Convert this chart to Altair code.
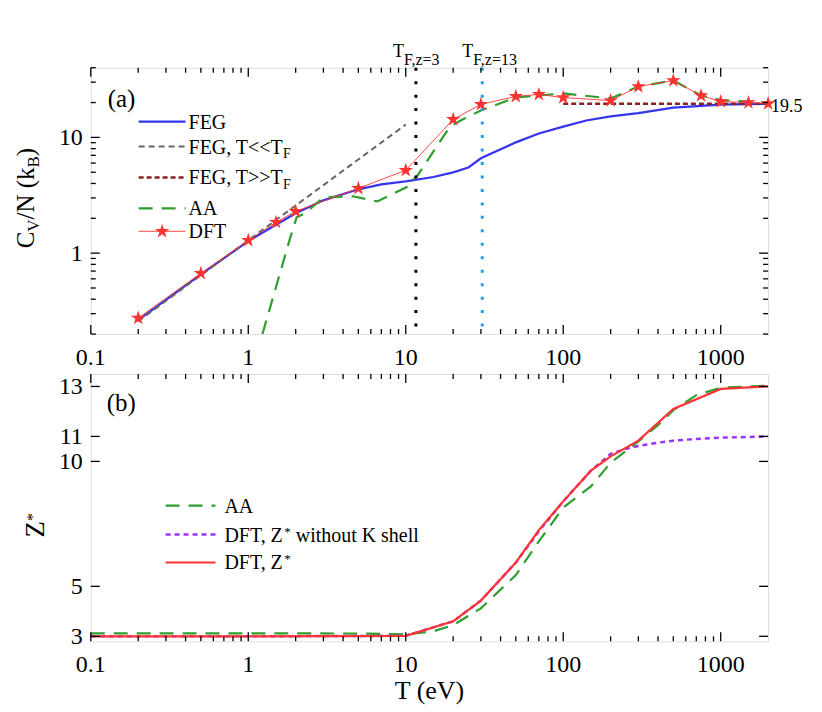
import altair as alt
import pandas as pd

FONT = "Liberation Serif"

# ---------------- panel (a): heat capacity C_V/N (k_B) ----------------
feg_t = [0.2, 0.5, 1, 1.5, 2, 3, 5, 7, 10, 15, 20, 25, 30, 50, 70, 100, 140, 200, 300, 500, 1000, 2000]
feg_cv = [0.264, 0.655, 1.27, 1.76, 2.21, 2.86, 3.56, 3.93, 4.17, 4.55, 4.99, 5.5, 6.6, 9.06, 10.8,
          12.4, 14.0, 15.2, 16.2, 18.1, 19.2, 19.5]

low_t = [0.2, 10]
low_cv = [0.258, 12.9]

high_t = [100, 2000]
high_cv = [19.5, 19.5]

aa_t = [1.23, 1.53, 1.85, 2.03, 2.3, 3, 4.6, 6.6, 10.1, 11.9, 14.9, 19, 22.3, 30, 50, 100, 200, 300,
        500, 750, 1000, 2000]
aa_cv = [0.2, 0.56, 1.37, 2.04, 2.21, 3.04, 3.1, 2.8, 3.71, 4.7, 7.47, 12.3, 14.0, 17.1, 22.1, 24.0,
         21.7, 27.5, 31.0, 23.0, 21.0, 20.0]

dft_t = [0.2, 0.5, 1, 1.5, 2, 5, 10, 20, 30, 50, 70, 100, 200, 300, 500, 750, 1000, 1500, 2000]
dft_cv = [0.275, 0.67, 1.29, 1.85, 2.30, 3.63, 5.2, 14.3, 19.3, 22.6, 23.5, 22.1, 20.8, 27.5, 31.0,
          23.0, 20.4, 20.0, 19.6]

tf_z3 = 11.6
tf_z13 = 30.6
cv_limit = 19.5

# ---------------- panel (b): ionization Z* ----------------
zaa_t = [0.1, 1, 5, 10, 15, 20, 30, 50, 70, 100, 150, 200, 300, 400, 500, 700, 1000, 2000]
zaa = [3.12, 3.12, 3.11, 3.08, 3.2, 3.45, 4.12, 5.45, 6.8, 8.15, 9.0, 9.95, 10.8, 11.45, 12.05,
       12.65, 12.95, 13.03]

zk_t = [0.1, 1, 10, 20, 30, 50, 70, 100, 150, 200, 250, 300, 400, 500, 700, 1000, 2000]
zk = [3.0, 3.0, 3.02, 3.6, 4.43, 5.95, 7.2, 8.4, 9.63, 10.3, 10.5, 10.62, 10.75, 10.83, 10.9, 10.95, 11.0]

zdft_t = [0.1, 1, 10, 20, 30, 50, 70, 100, 150, 200, 300, 500, 1000, 2000]
zdft = [3.0, 3.0, 3.02, 3.6, 4.43, 5.95, 7.25, 8.4, 9.63, 10.2, 10.83, 12.1, 12.9, 13.0]

# ticks and tick labels
x_major = [0.1, 1, 10, 100, 1000]
x_labels = ["0.1", "1", "10", "100", "1000"]
x_minor = [m * d for d in (0.1, 1, 10, 100) for m in range(2, 10)]
ya_major = [1, 10]
ya_labels = ["1", "10"]
ya_minor = [m * 0.1 for m in range(2, 10)] + list(range(2, 10)) + [20, 30, 40]
yb_major = [3, 5, 10, 11, 13]
yb_labels = ["3", "5", "10", "11", "13"]

W = 679
H_A = 267
H_B = 268

X_SCALE = alt.Scale(type="log", domain=[0.1, 2000], nice=False)
YA_SCALE = alt.Scale(type="log", domain=[0.2, 40], nice=False)
YB_SCALE = alt.Scale(domain=[2.8, 13.5], nice=False, zero=False)

STAR = ("M0,-1L0.2245,-0.309L0.951,-0.309L0.363,0.118L0.588,0.809L0,0.382"
        "L-0.588,0.809L-0.363,0.118L-0.951,-0.309L-0.2245,-0.309Z")

BLUE = "#3535EE"
GREEN = "#2E9E2E"
RED = "#FF3333"
GRAY = "#666666"
BROWN = "#8B2020"
PURPLE = "#9B33FF"
SKY = "#1E9FE8"

ONE = pd.DataFrame({"k": [0]})

# Times / Liberation Serif advance widths (per 1000 em)
WIDTHS = {" ": 250, "(": 333, ")": 333, ",": 250, "/": 278, "<": 564, ">": 564, "=": 564, "*": 500,
          ".": 250, "A": 722, "B": 667, "C": 667, "D": 722, "E": 611, "F": 556, "G": 722, "K": 722,
          "N": 722, "T": 611, "V": 722, "Z": 611, "e": 444, "h": 500, "i": 278, "k": 500, "l": 278,
          "o": 500, "s": 389, "t": 278, "u": 500, "w": 722, "z": 444}


def text_width(s, size):
    return sum(WIDTHS.get(c, 500) for c in s) * size / 1000


def tx():
    return alt.X("T:Q", scale=X_SCALE, axis=None)


def line(t, v, yscale, color, width, dash=None):
    df = pd.DataFrame({"T": t, "v": v})
    kw = dict(color=color, strokeWidth=width)
    if dash:
        kw["strokeDash"] = dash
    return alt.Chart(df).mark_line(**kw).encode(x=tx(), y=alt.Y("v:Q", scale=yscale, axis=None))


def txt(s, x, y, size, angle=0, align="left", baseline="alphabetic"):
    return alt.Chart(ONE).mark_text(
        font=FONT, fontSize=size, angle=angle, align=align, baseline=baseline, color="black"
    ).encode(x=alt.value(x), y=alt.value(y), text=alt.value(s))


def rich(pieces, x, y, angle=0):
    # pieces: (text, size, baseline shift); angle 270 reads bottom to top
    out, pos = [], 0.0
    for s, size, shift in pieces:
        lead = s[: len(s) - len(s.lstrip())]  # svg drops leading blanks, so skip them by hand
        pos += text_width(lead, size)
        s = s.lstrip()
        if angle:
            out.append(txt(s, x + shift, y - pos, size, angle))
        else:
            out.append(txt(s, x + pos, y + shift, size))
        pos += text_width(s, size)
    return out


def rich_at(pieces, xval, dx, y):
    out, pos = [], 0.0
    df = pd.DataFrame({"T": [xval]})
    for s, size, shift in pieces:
        out.append(
            alt.Chart(df).mark_text(font=FONT, fontSize=size, align="left", baseline="alphabetic",
                                    color="black", dx=dx + pos)
            .encode(x=tx(), y=alt.value(y + shift), text=alt.value(s))
        )
        pos += text_width(s, size)
    return out


def xticks(vals, length, h):
    df = pd.DataFrame({"T": vals})
    base = alt.Chart(df).mark_rule(color="black", strokeWidth=1.3)
    return [base.encode(x=tx(), y=alt.value(h), y2=alt.value(h - length)),
            base.encode(x=tx(), y=alt.value(0), y2=alt.value(length))]


def yticks(vals, length, yscale):
    df = pd.DataFrame({"v": vals})
    base = alt.Chart(df).mark_rule(color="black", strokeWidth=1.3)
    enc = alt.Y("v:Q", scale=yscale, axis=None)
    return [base.encode(y=enc, x=alt.value(0), x2=alt.value(length)),
            base.encode(y=enc, x=alt.value(W), x2=alt.value(W - length))]


def xlabels(h):
    df = pd.DataFrame({"T": x_major, "s": x_labels})
    return alt.Chart(df).mark_text(font=FONT, fontSize=24, align="center", baseline="alphabetic",
                                   color="black").encode(x=tx(), y=alt.value(h + 31), text="s:N")


def ylabels(vals, labels, yscale):
    df = pd.DataFrame({"v": vals, "s": labels})
    return alt.Chart(df).mark_text(font=FONT, fontSize=24, align="right", baseline="alphabetic",
                                   color="black", dy=8).encode(
        y=alt.Y("v:Q", scale=yscale, axis=None), x=alt.value(-8), text="s:N")


def vline(xval, color):
    return alt.Chart(pd.DataFrame({"T": [xval]})).mark_rule(
        color=color, strokeWidth=3, strokeDash=[3, 10.5]).encode(x=tx())


def legend_line(x0, x1, y, color, width, dash=None):
    kw = dict(color=color, strokeWidth=width)
    if dash:
        kw["strokeDash"] = dash
    return alt.Chart(ONE).mark_rule(**kw).encode(x=alt.value(x0), x2=alt.value(x1), y=alt.value(y))


def bound(y):
    # invisible rule fixing the outer edges of the figure
    return alt.Chart(ONE).mark_rule(opacity=0, strokeWidth=0).encode(
        x=alt.value(-82), x2=alt.value(W + 45), y=alt.value(y))


# ---------------- build panel (a) ----------------
a_layers = [
    line(feg_t, feg_cv, YA_SCALE, BLUE, 2.2),
    line(low_t, low_cv, YA_SCALE, GRAY, 2, dash=[6, 4]),
    line(high_t, high_cv, YA_SCALE, BROWN, 2.5, dash=[5, 3]),
    line(aa_t, aa_cv, YA_SCALE, GREEN, 2.2, dash=[14, 9]),
    line(dft_t, dft_cv, YA_SCALE, RED, 0.9),
    alt.Chart(pd.DataFrame({"T": dft_t, "v": dft_cv}))
    .mark_point(shape=STAR, size=230, filled=True, color=RED, opacity=1)
    .encode(x=tx(), y=alt.Y("v:Q", scale=YA_SCALE, axis=None)),
    vline(tf_z3, "black"),
    vline(tf_z13, SKY),
]
a_layers += xticks(x_major, 9, H_A) + xticks(x_minor, 5, H_A)
a_layers += yticks(ya_major, 9, YA_SCALE) + yticks(ya_minor, 5, YA_SCALE)
a_layers += [xlabels(H_A), ylabels(ya_major, ya_labels, YA_SCALE)]

# legend (a)
lx0, lx1, ltx = 48, 95, 98
a_layers += [
    legend_line(lx0, lx1, 54, BLUE, 2.2),
    legend_line(lx0, lx1, 79, GRAY, 2, [6, 4]),
    legend_line(lx0, lx1, 110, BROWN, 2.5, [5, 3]),
    legend_line(lx0, lx1, 141, GREEN, 2.2, [14, 9]),
    legend_line(lx0, lx1, 164, RED, 0.9),
    alt.Chart(ONE).mark_point(shape=STAR, size=230, filled=True, color=RED, opacity=1)
    .encode(x=alt.value((lx0 + lx1) / 2), y=alt.value(164)),
    txt("FEG", ltx, 54 + 7, 20),
    txt("AA", ltx, 141 + 7, 20),
    txt("DFT", ltx, 164 + 7, 20),
]
a_layers += rich([("FEG, T<<T", 20, 0), ("F", 14, 5)], ltx, 79 + 7)
a_layers += rich([("FEG, T>>T", 20, 0), ("F", 14, 5)], ltx, 110 + 7)

# annotations (a)
a_layers += [txt("(a)", 17, 39, 25)]
a_layers += rich_at([("T", 18, 0), ("F,z=3", 16, 8)], tf_z3, -23, -11)
a_layers += rich_at([("T", 18, 0), ("F,z=13", 16, 8)], tf_z13, -20, -11)
a_layers += [
    alt.Chart(pd.DataFrame({"T": [2000], "v": [cv_limit], "s": ["19.5"]}))
    .mark_text(font=FONT, fontSize=18, align="left", baseline="middle", color="black", dx=3, dy=3)
    .encode(x=tx(), y=alt.Y("v:Q", scale=YA_SCALE, axis=None), text="s:N")
]
a_layers += rich([("C", 25, 0), ("V", 17, 5), ("/N (k", 25, 0), ("B", 17, 5), (")", 25, 0)],
                 -57, 181, angle=270)
a_layers += [bound(-58)]

panel_a = alt.layer(*a_layers).properties(width=W, height=H_A)

# ---------------- build panel (b) ----------------
b_layers = [
    line(zaa_t, zaa, YB_SCALE, GREEN, 2.2, dash=[14, 9]),
    line(zk_t, zk, YB_SCALE, PURPLE, 2.5, dash=[5, 4]),
    line(zdft_t, zdft, YB_SCALE, RED, 2.2),
]
b_layers += xticks(x_major, 9, H_B) + xticks(x_minor, 5, H_B)
b_layers += yticks(yb_major, 9, YB_SCALE)
b_layers += [xlabels(H_B), ylabels(yb_major, yb_labels, YB_SCALE)]

bx0, bx1, btx = 75, 125, 134
b_layers += [
    legend_line(bx0, bx1, 132, GREEN, 2.2, [14, 9]),
    legend_line(bx0, bx1, 161, PURPLE, 2.5, [5, 4]),
    legend_line(bx0, bx1, 189, RED, 2.2),
    txt("AA", btx, 132 + 7, 20),
]
b_layers += rich([("DFT, Z", 20, 0), ("*", 13, -6), (" without K shell", 20, 0)], btx, 161 + 7)
b_layers += rich([("DFT, Z", 20, 0), ("*", 13, -6)], btx, 189 + 7)

b_layers += [txt("(b)", 16, 37.5, 25)]
b_layers += [txt("T (eV)", W / 2, H_B + 58, 26, align="center")]
b_layers += rich([("Z", 27, 0), ("*", 16, -6)], -47, 164, angle=270)
b_layers += [bound(H_B + 62)]

panel_b = alt.layer(*b_layers).properties(width=W, height=H_B)

chart = (
    alt.vconcat(panel_a, panel_b, spacing=40, bounds="flush", padding=0)
    .configure_view(stroke="black", strokeWidth=2)
    .configure(background="white")
)

chart.save("out.html", embed_options={"renderer": "svg", "actions": False})
